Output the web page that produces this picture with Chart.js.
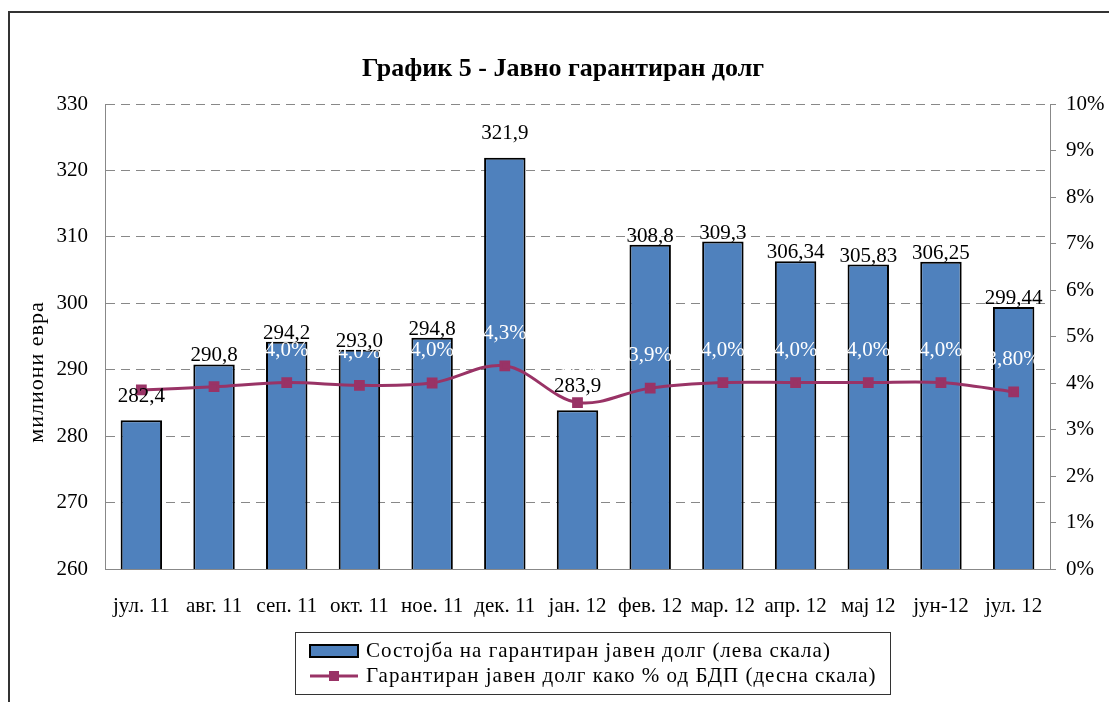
<!DOCTYPE html>
<html>
<head>
<meta charset="utf-8">
<script src="https://cdn.jsdelivr.net/npm/chart.js@4"></script>
<style>
  body { margin: 0; background: #fff; }
  #wrap { width: 1109px; height: 702px; }
</style>
</head>
<body>
<div id="wrap"><canvas id="myChart" width="1109" height="702"></canvas></div>
<script>
// months on the x axis
const months = ['јул. 11', 'авг. 11', 'сеп. 11', 'окт. 11', 'ное. 11', 'дек. 11', 'јан. 12',
  'фев. 12', 'мар. 12', 'апр. 12', 'мај 12', 'јун-12', 'јул. 12'];
// guaranteed debt, million EUR (left scale)
const debt = [282.4, 290.8, 294.2, 293.0, 294.8, 321.9, 283.9, 308.8, 309.3, 306.34, 305.83, 306.25, 299.44];
const debtLabels = ['282,4', '290,8', '294,2', '293,0', '294,8', '321,9', '283,9', '308,8', '309,3',
  '306,34', '305,83', '306,25', '299,44'];
// guaranteed debt as % of GDP (right scale)
const pct = [3.85, 3.92, 4.01, 3.95, 4.0, 4.37, 3.58, 3.89, 4.01, 4.01, 4.01, 4.01, 3.81];
const pctLabels = ['3,9%', '3,9%', '4,0%', '4,0%', '4,0%', '4,3%', '3,6%', '3,9%', '4,0%', '4,0%',
  '4,0%', '4,0%', '3,80%'];
const leftMin = 260, leftMax = 330, leftStep = 10;
const rightMin = 0, rightMax = 10, rightStep = 1;

const barName = 'Состојба на гарантиран јавен долг (лева скала)';
const lineName = 'Гарантиран јавен долг како % од БДП (десна скала)';
const title = 'График 5 - Јавно гарантиран долг';

var FONT = '"Liberation Serif", "Times New Roman", serif';
var barColor = '#4F81BD';
var lineColor = '#993366';

// a few bar labels sit higher in the original
var liftMore = {0: 15, 5: 16, 6: 15};

var decor = {
  id: 'decor',
  afterDatasetsDraw: function(chart) {
    var ctx = chart.ctx;
    ctx.save();
    ctx.font = '21px ' + FONT;
    ctx.textAlign = 'center';
    ctx.textBaseline = 'alphabetic';
    // percent labels (white), dataset 0 is the line
    var pts = chart.getDatasetMeta(0).data;
    for (let i = 0; i < pts.length; i++) {
      ctx.fillStyle = '#fff';
      ctx.fillText(pctLabels[i], pts[i].x, pts[i].y - 27);
    }
    // bar value labels
    var bars = chart.getDatasetMeta(1).data;
    for (let i = 0; i < bars.length; i++) {
      ctx.fillStyle = '#000';
      ctx.fillText(debtLabels[i], bars[i].x, bars[i].y - 3 - (liftMore[i] || 0));
    }
    ctx.restore();
  },
  afterDraw: function(chart) {
    var ctx = chart.ctx;
    ctx.save();
    // outer frame
    ctx.strokeStyle = '#333';
    ctx.lineWidth = 2;
    ctx.strokeRect(9, 12, 1200, 800);
    // title
    ctx.fillStyle = '#000';
    ctx.font = 'bold 26px ' + FONT;
    ctx.textAlign = 'center';
    ctx.textBaseline = 'alphabetic';
    ctx.fillText(title, 563, 76);
    // y axis title
    ctx.save();
    ctx.translate(37, 372);
    ctx.rotate(-Math.PI / 2);
    ctx.font = '22px ' + FONT;
    ctx.letterSpacing = '1px';
    ctx.textBaseline = 'middle';
    ctx.fillText('милиони евра', 0, 0);
    ctx.restore();
    // legend
    ctx.strokeStyle = '#333';
    ctx.lineWidth = 1;
    ctx.strokeRect(295.5, 632.5, 595, 62);
    ctx.fillStyle = barColor;
    ctx.fillRect(310, 645, 48, 12);
    ctx.strokeStyle = '#000';
    ctx.lineWidth = 2;
    ctx.strokeRect(310, 645, 48, 12);
    ctx.strokeStyle = lineColor;
    ctx.lineWidth = 3;
    ctx.beginPath();
    ctx.moveTo(310, 676);
    ctx.lineTo(358, 676);
    ctx.stroke();
    ctx.fillStyle = lineColor;
    ctx.fillRect(329, 671, 10, 10);
    ctx.fillStyle = '#000';
    ctx.font = '21px ' + FONT;
    ctx.letterSpacing = '1px';
    ctx.textAlign = 'left';
    ctx.textBaseline = 'middle';
    ctx.fillText(barName, 366, 651);
    ctx.fillText(lineName, 366, 676);
    ctx.restore();
  }
};

var tickFont = { family: FONT, size: 21 };

const config = {
  data: {
    labels: months,
    datasets: [{
      type: 'line',
      label: lineName,
      data: pct,
      yAxisID: 'y1',
      borderColor: lineColor,
      backgroundColor: lineColor,
      borderWidth: 3,
      pointStyle: 'rect',
      pointRadius: 5.5,
      pointBackgroundColor: lineColor,
      pointBorderColor: lineColor,
      tension: 0.35,
      order: 0
    }, {
      type: 'bar',
      label: barName,
      data: debt,
      yAxisID: 'y',
      backgroundColor: barColor,
      borderColor: '#000',
      borderWidth: 2,
      barPercentage: 0.57,
      categoryPercentage: 1,
      order: 1
    }]
  },
  options: {
    responsive: false,
    animation: false,
    layout: { padding: { top: 104, bottom: 73, left: 0, right: 0 } },
    plugins: { legend: { display: false }, tooltip: { enabled: false } },
    scales: {
      x: {
        grid: { display: false, drawTicks: false },
        border: { color: '#888' },
        ticks: { font: tickFont, color: '#000', padding: 25, maxRotation: 0, autoSkip: false },
        afterFit: function(scale) { scale.height = 60; }
      },
      y: {
        position: 'left',
        min: leftMin,
        max: leftMax,
        grid: { color: '#888', drawTicks: false },
        border: { color: '#888', dash: [9, 6] },
        ticks: { stepSize: leftStep, font: tickFont, color: '#000', padding: 17 },
        afterFit: function(scale) { scale.width = 105; }
      },
      y1: {
        position: 'right',
        min: rightMin,
        max: rightMax,
        grid: { drawOnChartArea: false, tickLength: 6, color: '#888' },
        border: { color: '#888' },
        ticks: {
          stepSize: rightStep, font: tickFont, color: '#000', padding: 10,
          callback: function(v) { return v + '%'; }
        },
        afterFit: function(scale) { scale.width = 59; }
      }
    }
  },
  plugins: [decor]
};

const myChart = new Chart(document.getElementById('myChart'), config);
</script>
</body>
</html>
